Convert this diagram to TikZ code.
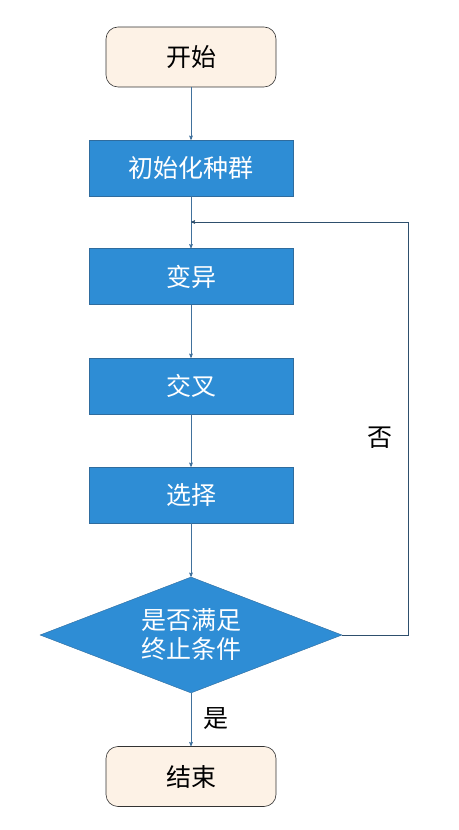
\documentclass[tikz,border=0pt]{standalone}
\usepackage{fontspec}
\setmainfont{Noto Sans CJK SC}
\usetikzlibrary{arrows,shapes.geometric,positioning,calc}
\definecolor{boxblue}{HTML}{2E8DD5}
\definecolor{boxedge}{HTML}{2F6C9E}
\definecolor{linkblue}{HTML}{41719C}
\definecolor{cream}{HTML}{FDF2E6}
\tikzset{x=1pt,y=1pt,
        every node/.style={font=\fontsize{25}{29}\selectfont},
        terminal/.style={ % start and end
            rectangle, rounded corners=12pt, draw=black!80, fill=cream,
            semithick, minimum width=170pt, minimum height=60pt},
        process/.style={ % blue steps
            rectangle, draw=boxedge, fill=boxblue, text=white,
            minimum width=204pt, minimum height=56pt},
        decision/.style={
            diamond, draw=boxedge, fill=boxblue, aspect=2.6,
            inner sep=0pt, minimum width=302pt, minimum height=116pt},
        every edge/.style={ % connectors
            draw=linkblue, semithick,
            ->,>=stealth'}
        }

\begin{document}
\begin{tikzpicture}
    \useasboundingbox (0,0) rectangle (458,830);

    \node[terminal] (start) at (191,773) {开始};
    \node[process] (init) at (191,662) {初始化种群};
    \node[process] (mut) at (191,553.5) {变异};
    \node[process] (cross) at (191,444) {交叉};
    \node[process] (sel) at (191,335) {选择};
    \node[decision, label={[text=white, align=center]center:{是否满足\\终止条件}}]
        (cond) at (191,195) {};
    \node[terminal] (stop) at (191,53.5) {结束};

    \coordinate (loop) at (191,608);

    \draw (start) edge (init);
    \draw (init) edge (mut);
    \draw (mut) edge (cross);
    \draw (cross) edge (sel);
    \draw (sel) edge (cond);
    \draw (cond) edge (stop);
    \node at (216,111) {是};

    % feedback when not satisfied
    \draw[draw=linkblue!70!black, semithick, ->, >=stealth']
        (cond.east) -| (408,608) -- (loop);
    \node at (380,392) {否};
\end{tikzpicture}
\end{document}
